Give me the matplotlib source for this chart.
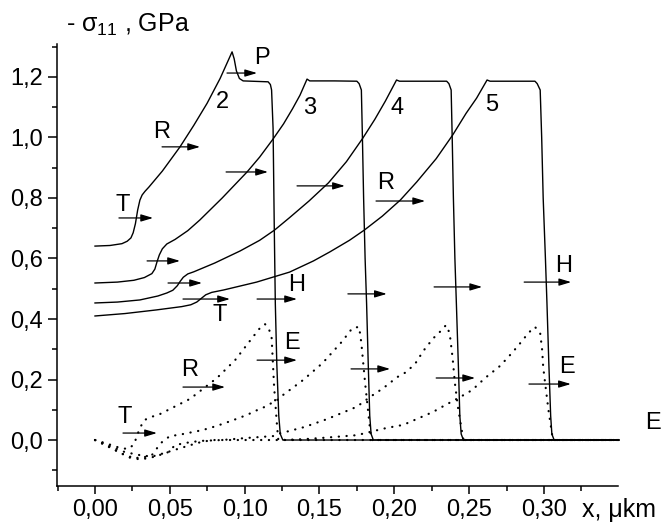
import matplotlib
matplotlib.use("Agg")
import matplotlib.pyplot as plt
from matplotlib.ticker import FixedLocator, FuncFormatter

plt.rcParams["font.family"] = ["Liberation Sans", "DejaVu Sans"]
plt.rcParams["mathtext.fontset"] = "custom"
plt.rcParams["mathtext.rm"] = "Liberation Sans"
plt.rcParams["mathtext.it"] = "Liberation Sans"

# solid curves (x in ukm, -sigma11 in GPa)
s2_x = [0.0, 0.01, 0.018, 0.0215, 0.024, 0.0255, 0.027, 0.0285, 0.030, 0.0315, 0.0334,
        0.036, 0.045, 0.0568, 0.066, 0.0749, 0.0836, 0.0916, 0.093, 0.0945, 0.0965,
        0.099, 0.1157, 0.1172, 0.118, 0.119, 0.1198, 0.1205, 0.1215, 0.1228, 0.1238,
        0.1255, 0.35]
s2_y = [0.641, 0.643, 0.649, 0.657, 0.668, 0.685, 0.715, 0.76, 0.793, 0.81, 0.822,
        0.836, 0.889, 0.969, 1.04, 1.113, 1.195, 1.283, 1.26, 1.22, 1.195,
        1.187, 1.184, 1.175, 1.157, 1.03, 0.7, 0.45, 0.25, 0.08, 0.02,
        0.0, 0.0]

s3_x = [0.0, 0.015, 0.026, 0.033, 0.038, 0.040, 0.0415, 0.043, 0.045, 0.048, 0.0535,
        0.062, 0.07, 0.085, 0.1016, 0.11, 0.119, 0.126, 0.132, 0.137, 0.1417, 0.1435,
        0.16, 0.175, 0.1765, 0.178, 0.1787, 0.1795, 0.1805, 0.1815, 0.1826, 0.1836,
        0.1845, 0.186, 0.35]
s3_y = [0.519, 0.522, 0.528, 0.537, 0.55, 0.565, 0.59, 0.612, 0.632, 0.648, 0.663,
        0.692, 0.727, 0.80, 0.886, 0.935, 0.995, 1.045, 1.095, 1.14, 1.193, 1.187,
        1.187, 1.186, 1.178, 1.157, 1.0, 0.8, 0.6, 0.45, 0.25, 0.08,
        0.02, 0.0, 0.0]

s4_x = [0.0, 0.015, 0.030, 0.042, 0.048, 0.052, 0.055, 0.057, 0.059, 0.062, 0.066,
        0.080, 0.097, 0.110, 0.120, 0.130, 0.143, 0.156, 0.168, 0.179, 0.187, 0.194,
        0.2015, 0.2035, 0.235, 0.2365, 0.238, 0.2387, 0.2395, 0.2405, 0.2415, 0.2428,
        0.2438, 0.2447, 0.2462, 0.35]
s4_y = [0.453, 0.456, 0.463, 0.476, 0.486, 0.495, 0.51, 0.525, 0.538, 0.549, 0.556,
        0.585, 0.625, 0.66, 0.694, 0.735, 0.79, 0.85, 0.92, 0.998, 1.06, 1.12,
        1.19, 1.186, 1.186, 1.178, 1.157, 1.0, 0.8, 0.6, 0.45, 0.25,
        0.08, 0.02, 0.0, 0.0]

s5_x = [0.0, 0.02, 0.041, 0.058, 0.064, 0.068, 0.071, 0.074, 0.078, 0.086, 0.108,
        0.130, 0.146, 0.157, 0.17, 0.18, 0.192, 0.204, 0.215, 0.228, 0.239, 0.248,
        0.255, 0.262, 0.264, 0.294, 0.2955, 0.2975, 0.2985, 0.2995, 0.301, 0.302,
        0.3033, 0.3045, 0.3053, 0.3068, 0.35]
s5_y = [0.41, 0.418, 0.43, 0.441, 0.447, 0.456, 0.468, 0.48, 0.488, 0.496, 0.522,
        0.555, 0.592, 0.622, 0.66, 0.694, 0.74, 0.793, 0.853, 0.93, 1.008, 1.08,
        1.13, 1.19, 1.186, 1.186, 1.178, 1.157, 1.0, 0.8, 0.6, 0.456,
        0.25, 0.08, 0.02, 0.0, 0.0]

# dotted curves
d2_x = [0.0, 0.008, 0.016, 0.022, 0.026, 0.028, 0.030, 0.033, 0.0375, 0.0435, 0.0635,
        0.0815, 0.0936, 0.1056, 0.111, 0.1136, 0.116, 0.118, 0.1197, 0.1217, 0.1225, 0.35]
d2_y = [0.0, -0.012, -0.025, -0.03, -0.015, 0.013, 0.04, 0.066, 0.076, 0.086, 0.136,
        0.205, 0.264, 0.341, 0.375, 0.383, 0.37, 0.34, 0.175, 0.043, 0.0, 0.0]

d3_x = [0.0, 0.008, 0.016, 0.024, 0.032, 0.038, 0.044, 0.05, 0.056, 0.064, 0.072,
        0.081, 0.092, 0.1016, 0.107, 0.112, 0.1217, 0.1257, 0.139, 0.152, 0.165,
        0.172, 0.1765, 0.178, 0.1805, 0.184, 0.185, 0.35]
d3_y = [0.0, -0.018, -0.04, -0.06, -0.058, -0.05, -0.01, 0.013, 0.017, 0.025, 0.033,
        0.046, 0.065, 0.083, 0.096, 0.106, 0.132, 0.149, 0.198, 0.254, 0.325,
        0.37, 0.374, 0.32, 0.188, 0.027, 0.0, 0.0]

d4_x = [0.0, 0.01, 0.02, 0.03, 0.04, 0.049, 0.0535, 0.06, 0.07, 0.085, 0.102, 0.119,
        0.122, 0.130, 0.140, 0.155, 0.175, 0.184, 0.1925, 0.202, 0.2085, 0.215,
        0.219, 0.226, 0.231, 0.2346, 0.237, 0.239, 0.2405, 0.2425, 0.246, 0.247, 0.35]
d4_y = [0.0, -0.025, -0.05, -0.065, -0.055, -0.04, -0.017, -0.01, -0.003, 0.0, 0.007,
        0.013, 0.02, 0.03, 0.043, 0.069, 0.11, 0.143, 0.171, 0.208, 0.226, 0.259,
        0.292, 0.336, 0.36, 0.38, 0.353, 0.27, 0.188, 0.11, 0.005, 0.0, 0.0]

d5_x = [0.0, 0.01, 0.02, 0.03, 0.038, 0.045, 0.055, 0.065, 0.072, 0.08, 0.1, 0.125,
        0.14, 0.152, 0.175, 0.184, 0.195, 0.206, 0.226, 0.2306, 0.244, 0.252, 0.2607,
        0.2707, 0.2787, 0.286, 0.2894, 0.294, 0.2975, 0.2988, 0.2995, 0.3008, 0.303,
        0.3055, 0.306, 0.35]
d5_y = [0.0, -0.02, -0.04, -0.05, -0.055, -0.045, -0.03, -0.015, -0.005, 0.0, 0.0, 0.0,
        0.003, 0.007, 0.016, 0.027, 0.04, 0.05, 0.093, 0.106, 0.142, 0.165, 0.205,
        0.245, 0.288, 0.331, 0.353, 0.374, 0.353, 0.298, 0.242, 0.188, 0.1,
        0.017, 0.0, 0.0]

solid = [(s2_x, s2_y), (s3_x, s3_y), (s4_x, s4_y), (s5_x, s5_y)]
dotted = [(d2_x, d2_y), (d3_x, d3_y), (d4_x, d4_y), (d5_x, d5_y)]

x_major = [0.0, 0.05, 0.10, 0.15, 0.20, 0.25, 0.30]
x_minor = [-0.025, 0.025, 0.075, 0.125, 0.175, 0.225, 0.275, 0.325]
y_major = [0.0, 0.2, 0.4, 0.6, 0.8, 1.0, 1.2]
y_minor = [-0.1, 0.1, 0.3, 0.5, 0.7, 0.9, 1.1, 1.3]

fig = plt.figure(figsize=(6.61, 5.26), dpi=100)
ax = fig.add_axes([57 / 661, 40 / 526, 561 / 661, 442 / 526])

for x, y in solid:
    ax.plot(x, y, color="black", lw=1.0, clip_on=False)
for x, y in dotted:
    ax.plot(x, y, color="black", lw=1.6, linestyle=(0, (0.1, 3.4)),
            dash_capstyle="round", clip_on=False)

ax.set_xlim(-0.0254, 0.3495)
ax.set_ylim(-0.152, 1.309)

for side in ("top", "right"):
    ax.spines[side].set_visible(False)
for side in ("left", "bottom"):
    ax.spines[side].set_linewidth(1.1)

ax.xaxis.set_major_locator(FixedLocator(x_major))
ax.xaxis.set_minor_locator(FixedLocator(x_minor))
ax.yaxis.set_major_locator(FixedLocator(y_major))
ax.yaxis.set_minor_locator(FixedLocator(y_minor))
ax.xaxis.set_major_formatter(FuncFormatter(lambda v, p: f"{v:.2f}".replace(".", ",")))
ax.yaxis.set_major_formatter(FuncFormatter(lambda v, p: f"{v:.1f}".replace(".", ",")))
ax.tick_params(which="major", direction="out", width=1.1, labelsize=17, color="black")
ax.tick_params(axis="x", which="major", length=6, pad=3.5)
ax.tick_params(axis="y", which="major", length=6.5, pad=3.5)
ax.tick_params(which="minor", direction="out", width=1.1, length=3.5)

# arrows: (x start, x end, y)
arrows = [
    (0.0882, 0.1083, 1.213), (0.0448, 0.0702, 0.969), (0.0876, 0.1156, 0.886),
    (0.135, 0.167, 0.840), (0.016, 0.0388, 0.734), (0.1878, 0.2206, 0.790),
    (0.0348, 0.0568, 0.592), (0.0488, 0.0715, 0.519), (0.0588, 0.0902, 0.466),
    (0.1083, 0.135, 0.466), (0.169, 0.195, 0.483), (0.2266, 0.2587, 0.506),
    (0.2868, 0.3182, 0.522), (0.1083, 0.135, 0.264), (0.0588, 0.0869, 0.175),
    (0.0187, 0.0414, 0.023), (0.1711, 0.1972, 0.235), (0.228, 0.254, 0.205),
    (0.290, 0.318, 0.185),
]
for x0, x1, y in arrows:
    ax.annotate("", xy=(x1, y), xytext=(x0, y),
                arrowprops=dict(arrowstyle="-|>,head_length=0.6,head_width=0.18",
                                mutation_scale=12, lw=0.9, color="black",
                                shrinkA=0, shrinkB=0))

labels = [
    ("P", 0.1116, 1.263), ("2", 0.085, 1.117), ("R", 0.0448, 1.018), ("T", 0.0187, 0.777),
    ("3", 0.1437, 1.098), ("4", 0.202, 1.098), ("5", 0.265, 1.107), ("R", 0.194, 0.85),
    ("H", 0.313, 0.575), ("H", 0.135, 0.512), ("T", 0.0836, 0.413), ("E", 0.1317, 0.321),
    ("R", 0.0635, 0.231), ("T", 0.020, 0.076), ("E", 0.3155, 0.241), ("E", 0.373, 0.056),
]
for s, x, y in labels:
    ax.text(x, y, s, fontsize=17, ha="center", va="center", clip_on=False)

fig.text(66 / 661, 1 - 32 / 526, "- σ$_{11}$ , GPa", fontsize=18, ha="left", va="baseline")
fig.text(582 / 661, 1 - 517 / 526, "x, μkm", fontsize=18, ha="left", va="baseline")

fig.savefig("out.png", dpi=100)
